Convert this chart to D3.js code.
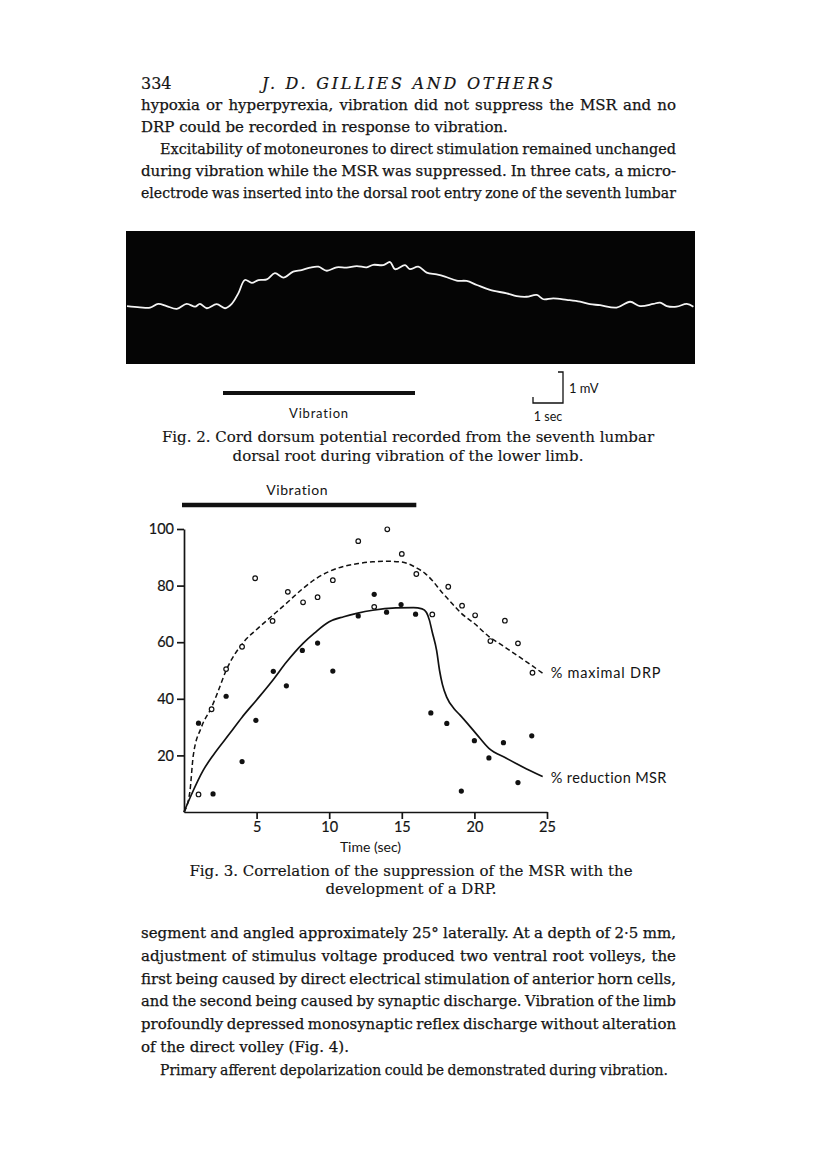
<!DOCTYPE html>
<html>
<head>
<meta charset="utf-8">
<script src="https://cdn.jsdelivr.net/npm/d3@7"></script>
<style>
  body { margin: 0; background: #fff; }
  svg text { fill: #141414; }
  .body { font-family: "DejaVu Serif", serif; font-size: 15px; stroke: #141414; stroke-width: 0.25; }
  .caption { font-family: "DejaVu Serif", serif; font-size: 15px; stroke: #141414; stroke-width: 0.15; }
  .head { font-family: "DejaVu Serif", serif; font-size: 16px; stroke: #141414; stroke-width: 0.2; }
  .sans { font-family: Lato, "Open Sans", sans-serif; }
  .axis text { font-family: Lato, "Open Sans", sans-serif; font-size: 14.5px; fill: #141414; stroke: #141414; stroke-width: 0.2; }
  .axis path, .axis line { stroke: #141414; stroke-width: 1.7; }
</style>
</head>
<body>
<div id="page"></div>
<script>
// ---- page text ----
const topLines = [
  "hypoxia or hyperpyrexia, vibration did not suppress the MSR and no",
  "DRP could be recorded in response to vibration.",
  "Excitability of motoneurones to direct stimulation remained unchanged",
  "during vibration while the MSR was suppressed. In three cats, a micro-",
  "electrode was inserted into the dorsal root entry zone of the seventh lumbar"
];
const bottomLines = [
  "segment and angled approximately 25\u00B0 laterally. At a depth of 2\u00B75 mm,",
  "adjustment of stimulus voltage produced two ventral root volleys, the",
  "first being caused by direct electrical stimulation of anterior horn cells,",
  "and the second being caused by synaptic discharge. Vibration of the limb",
  "profoundly depressed monosynaptic reflex discharge without alteration",
  "of the direct volley (Fig. 4).",
  "Primary afferent depolarization could be demonstrated during vibration."
];
const fig2Caption = [
  "Fig. 2. Cord dorsum potential recorded from the seventh lumbar",
  "dorsal root during vibration of the lower limb."
];
const fig3Caption = [
  "Fig. 3. Correlation of the suppression of the MSR with the",
  "development of a DRP."
];

// ---- Fig. 2: cord dorsum potential trace (time in sec, potential in mV) ----
const traceTime = [0.0, 0.43, 0.77, 1.04, 1.32, 1.66, 1.99, 2.27, 2.43, 2.66, 2.99, 3.27, 3.49, 3.71,
  3.93, 4.16, 4.38, 4.66, 4.93, 5.21, 5.54, 5.82, 6.10, 6.38, 6.66, 6.99, 7.32, 7.66, 7.99, 8.21,
  8.54, 8.77, 8.93, 9.27, 9.43, 9.71, 9.99, 10.32, 10.60, 10.99, 11.32, 11.66, 12.10, 12.66, 12.99,
  13.32, 13.66, 13.88, 14.21, 14.66, 15.10, 15.43, 15.77, 16.32, 16.77, 17.10, 17.54, 17.77, 17.99,
  18.32, 18.66, 18.88];
const traceMv = [0.03, -0.01, -0.02, 0.10, 0.03, -0.06, 0.10, 0.01, 0.10, -0.04, 0.09, -0.04, 0.10, 0.44,
  0.87, 0.78, 0.87, 0.89, 1.09, 0.95, 1.14, 1.19, 1.27, 1.30, 1.17, 1.28, 1.27, 1.32, 1.28, 1.36,
  1.35, 1.45, 1.22, 1.35, 1.22, 1.30, 1.11, 1.05, 0.98, 0.85, 0.84, 0.71, 0.55, 0.44, 0.35,
  0.33, 0.39, 0.25, 0.28, 0.23, 0.17, 0.09, 0.06, -0.02, 0.17, 0.03, 0.10, 0.14, 0.03,
  0.01, 0.10, 0.01];
const fig2Vibration = [3.2, 9.6];

// ---- Fig. 3: observations ----
const drpTime = [1.0, 1.9, 2.9, 4.0, 4.9, 6.1, 7.15, 8.2, 9.2, 10.25, 12.0, 13.1, 14.0, 15.0, 16.0,
  17.1, 18.2, 19.15, 20.05, 21.1, 22.1, 23.0, 24.0];
const drpValue = [6.2, 36.3, 50.5, 58.4, 82.6, 67.5, 77.8, 74.1, 75.9, 81.9, 95.7, 72.5, 99.9, 91.2, 84.1,
  69.8, 79.6, 72.9, 69.5, 60.4, 67.6, 59.6, 49.2];
const msrTime = [1.0, 2.0, 2.9, 4.0, 4.95, 6.15, 7.05, 8.15, 9.2, 10.25, 12.0, 13.1, 13.95, 14.95, 15.95,
  17.0, 18.1, 19.1, 20.0, 21.0, 22.0, 23.0, 23.95];
const msrValue = [31.4, 6.4, 40.9, 17.8, 32.4, 49.7, 44.6, 57.1, 59.7, 49.8, 69.3, 76.9, 70.6, 73.3, 69.9,
  35.0, 31.3, 7.4, 25.2, 19.1, 24.5, 10.4, 26.9];

// fitted curves
const drpCurveTime = [0, 0.4, 0.64, 1.2, 1.9, 2.3, 2.9, 4.1, 5, 6, 7, 8.2, 9.1, 10, 11, 12, 13, 14, 14.9,
  15.5, 16, 16.6, 17.1, 17.7, 18.3, 19.1, 20, 21, 22, 23.1, 24, 24.7];
const drpCurveValue = [0, 7, 20, 30, 37, 42, 50, 60, 64.5, 69, 73.5, 79, 82.5, 85, 86.8, 87.8, 88.4, 88.6, 88.4,
  87.6, 86.3, 84.3, 81.8, 78, 74.6, 70.2, 66.6, 62, 58.6, 54.8, 51.6, 49];
const msrCurveTime = [0, 0.5, 1.33, 2, 3.16, 4, 5, 6.1, 7.06, 8.2, 9, 10, 11, 11.9, 13, 14.6, 15.8, 16.4,
  16.7, 16.9, 17.1, 17.4, 17.6, 17.8, 18.1, 18.6, 19.0, 20.1, 21.0, 22.2, 23.3, 24.7];
const msrCurveValue = [0, 6, 14.8, 20, 27.8, 33.5, 39.6, 46.5, 53, 59.6, 63.3, 67.2, 69, 70.2, 71.3, 72.1, 72.2, 71.8,
  70.5, 67.8, 63.5, 57, 50, 45, 40.5, 36.5, 34.3, 27.8, 22.5, 19, 16, 12.5];

const fig3Vibration = [0, 16];
const xTicks = [5, 10, 15, 20, 25];
const yTicks = [20, 40, 60, 80, 100];

// ---- drawing ----
const W = 816, H = 1176;
const svg = d3.select("#page").append("svg").attr("width", W).attr("height", H);

// place words so the line runs from x0 to x1 (justified); x1 == null -> natural spacing
function setLine(parent, str, x0, x1, y, cls) {
  if (x1 == null) {
    parent.append("text").attr("class", cls).attr("x", x0).attr("y", y).text(str);
    return;
  }
  const words = str.split(" ");
  const nodes = words.map(w => parent.append("text").attr("class", cls).attr("y", y).text(w));
  const widths = nodes.map(n => n.node().getComputedTextLength());
  const sum = d3.sum(widths);
  const target = x1 - x0;
  const minGap = 3.5;
  let gap = words.length > 1 ? (target - sum) / (words.length - 1) : 0;
  let k = 1;
  if (words.length > 1 && gap < minGap) {
    gap = minGap;
    k = (target - minGap * (words.length - 1)) / sum;
  }
  let x = x0;
  nodes.forEach((n, i) => {
    n.attr("x", x);
    if (k !== 1) n.attr("textLength", widths[i] * k).attr("lengthAdjust", "spacingAndGlyphs");
    x += widths[i] * k + gap;
  });
}

// running head
svg.append("text").attr("class", "head").attr("x", 141).attr("y", 89).text("334");
svg.append("text").attr("class", "head").attr("x", 262).attr("y", 89)
  .attr("font-style", "italic").attr("textLength", 291).attr("lengthAdjust", "spacing")
  .text("J. D. GILLIES AND OTHERS");

// top paragraph(s)
const left = 141, right = 676, indent = 19;
const topEnds = [right, null, right, right, right];
const topIndent = [0, 0, 1, 0, 0];
topLines.forEach((l, i) => {
  setLine(svg, l, left + topIndent[i] * indent, topEnds[i], 110 + i * 22, "body");
});

const botEnds = [right, right, right, right, right, null, 668];
const botIndent = [0, 0, 0, 0, 0, 0, 1];
bottomLines.forEach((l, i) => {
  setLine(svg, l, left + botIndent[i] * indent, botEnds[i], 938 + i * 22.8, "body");
});

// ---- Fig. 2 ----
const x2 = d3.scaleLinear().domain([0, 1]).range([127, 157]);   // 30 px per sec
const y2 = d3.scaleLinear().domain([0, 1]).range([307, 276]);   // 31 px per mV

svg.append("rect").attr("x", 126).attr("y", 231).attr("width", 569).attr("height", 133).attr("fill", "#050505");

const trace = traceTime.map((t, i) => [t, traceMv[i]]);
svg.append("path")
  .datum(trace)
  .attr("d", d3.line().x(d => x2(d[0])).y(d => y2(d[1])).curve(d3.curveCatmullRom))
  .attr("fill", "none").attr("stroke", "#f4f4f4").attr("stroke-width", 1.8);

svg.append("line")
  .attr("x1", x2(fig2Vibration[0])).attr("x2", x2(fig2Vibration[1]))
  .attr("y1", 393).attr("y2", 393).attr("stroke", "#111").attr("stroke-width", 4);
svg.append("text").attr("class", "sans").attr("x", x2(d3.mean(fig2Vibration))).attr("y", 418)
  .attr("text-anchor", "middle").attr("font-size", 13).attr("letter-spacing", 0.8).text("Vibration");

// calibration: 1 sec x 1 mV
const cx = 533, cy = 403;
const cal = d3.path();
cal.moveTo(cx, cy - 6);
cal.lineTo(cx, cy);
cal.lineTo(cx + (x2(1) - x2(0)), cy);
cal.lineTo(cx + (x2(1) - x2(0)), cy - (y2(0) - y2(1)));
cal.lineTo(cx + (x2(1) - x2(0)) - 5, cy - (y2(0) - y2(1)));
svg.append("path").attr("d", cal.toString()).attr("fill", "none").attr("stroke", "#111").attr("stroke-width", 1.3);
svg.append("text").attr("class", "sans").attr("x", 569).attr("y", 393).attr("font-size", 13).text("1 mV");
svg.append("text").attr("class", "sans").attr("x", 548).attr("y", 421).attr("text-anchor", "middle")
  .attr("font-size", 12.5).text("1 sec");

fig2Caption.forEach((c, i) => {
  svg.append("text").attr("class", "caption").attr("x", 408).attr("y", 442 + i * 18.5)
    .attr("text-anchor", "middle").text(c);
});

// ---- Fig. 3 ----
const x3 = d3.scaleLinear().domain([0, 25]).range([184, 547]);
const y3 = d3.scaleLinear().domain([0, 100]).range([812, 529]);
const g3 = svg.append("g");

g3.append("line")
  .attr("x1", x3(fig3Vibration[0]) - 2).attr("x2", x3(fig3Vibration[1]))
  .attr("y1", 505).attr("y2", 505).attr("stroke", "#111").attr("stroke-width", 4.5);
g3.append("text").attr("class", "sans").attr("x", x3(d3.mean(fig3Vibration)) - 3).attr("y", 495)
  .attr("text-anchor", "middle").attr("font-size", 14).attr("letter-spacing", 0.6).text("Vibration");

g3.append("g").attr("class", "axis").attr("transform", `translate(0,${y3(0)})`)
  .call(d3.axisBottom(x3).tickValues(xTicks).tickSize(7).tickSizeOuter(0).tickPadding(3));
g3.append("g").attr("class", "axis").attr("transform", `translate(${x3(0)},0)`)
  .call(d3.axisLeft(y3).tickValues(yTicks).tickSize(7).tickSizeOuter(0).tickPadding(3));

g3.append("text").attr("class", "sans").attr("x", x3(12.5) + 5).attr("y", 852)
  .attr("text-anchor", "middle").attr("font-size", 14).text("Time (sec)");

const line3 = d3.line().x(d => x3(d[0])).y(d => y3(d[1])).curve(d3.curveMonotoneX);
const drpCurve = drpCurveTime.map((t, i) => [t, drpCurveValue[i]]);
const msrCurve = msrCurveTime.map((t, i) => [t, msrCurveValue[i]]);

g3.append("path").datum(drpCurve).attr("d", line3)
  .attr("fill", "none").attr("stroke", "#111").attr("stroke-width", 1.5).attr("stroke-dasharray", "5,3");
g3.append("path").datum(msrCurve).attr("d", line3)
  .attr("fill", "none").attr("stroke", "#111").attr("stroke-width", 1.7);

g3.selectAll(".drp").data(drpTime.map((t, i) => [t, drpValue[i]])).enter()
  .append("circle").attr("class", "drp")
  .attr("cx", d => x3(d[0])).attr("cy", d => y3(d[1])).attr("r", 2.3)
  .attr("fill", "#fff").attr("stroke", "#111").attr("stroke-width", 1.2);
g3.selectAll(".msr").data(msrTime.map((t, i) => [t, msrValue[i]])).enter()
  .append("circle").attr("class", "msr")
  .attr("cx", d => x3(d[0])).attr("cy", d => y3(d[1])).attr("r", 2.6)
  .attr("fill", "#111");

const drpEnd = drpCurve[drpCurve.length - 1], msrEnd = msrCurve[msrCurve.length - 1];
g3.append("text").attr("class", "sans").attr("x", x3(drpEnd[0]) + 8).attr("y", y3(drpEnd[1]) + 5)
  .attr("font-size", 14.5).attr("letter-spacing", 0.8).text("% maximal DRP");
g3.append("text").attr("class", "sans").attr("x", x3(msrEnd[0]) + 8).attr("y", y3(msrEnd[1]) + 6)
  .attr("font-size", 14.5).attr("letter-spacing", 0.4).text("% reduction MSR");

fig3Caption.forEach((c, i) => {
  svg.append("text").attr("class", "caption").attr("x", 411).attr("y", 876 + i * 18)
    .attr("text-anchor", "middle").text(c);
});
</script>
</body>
</html>
